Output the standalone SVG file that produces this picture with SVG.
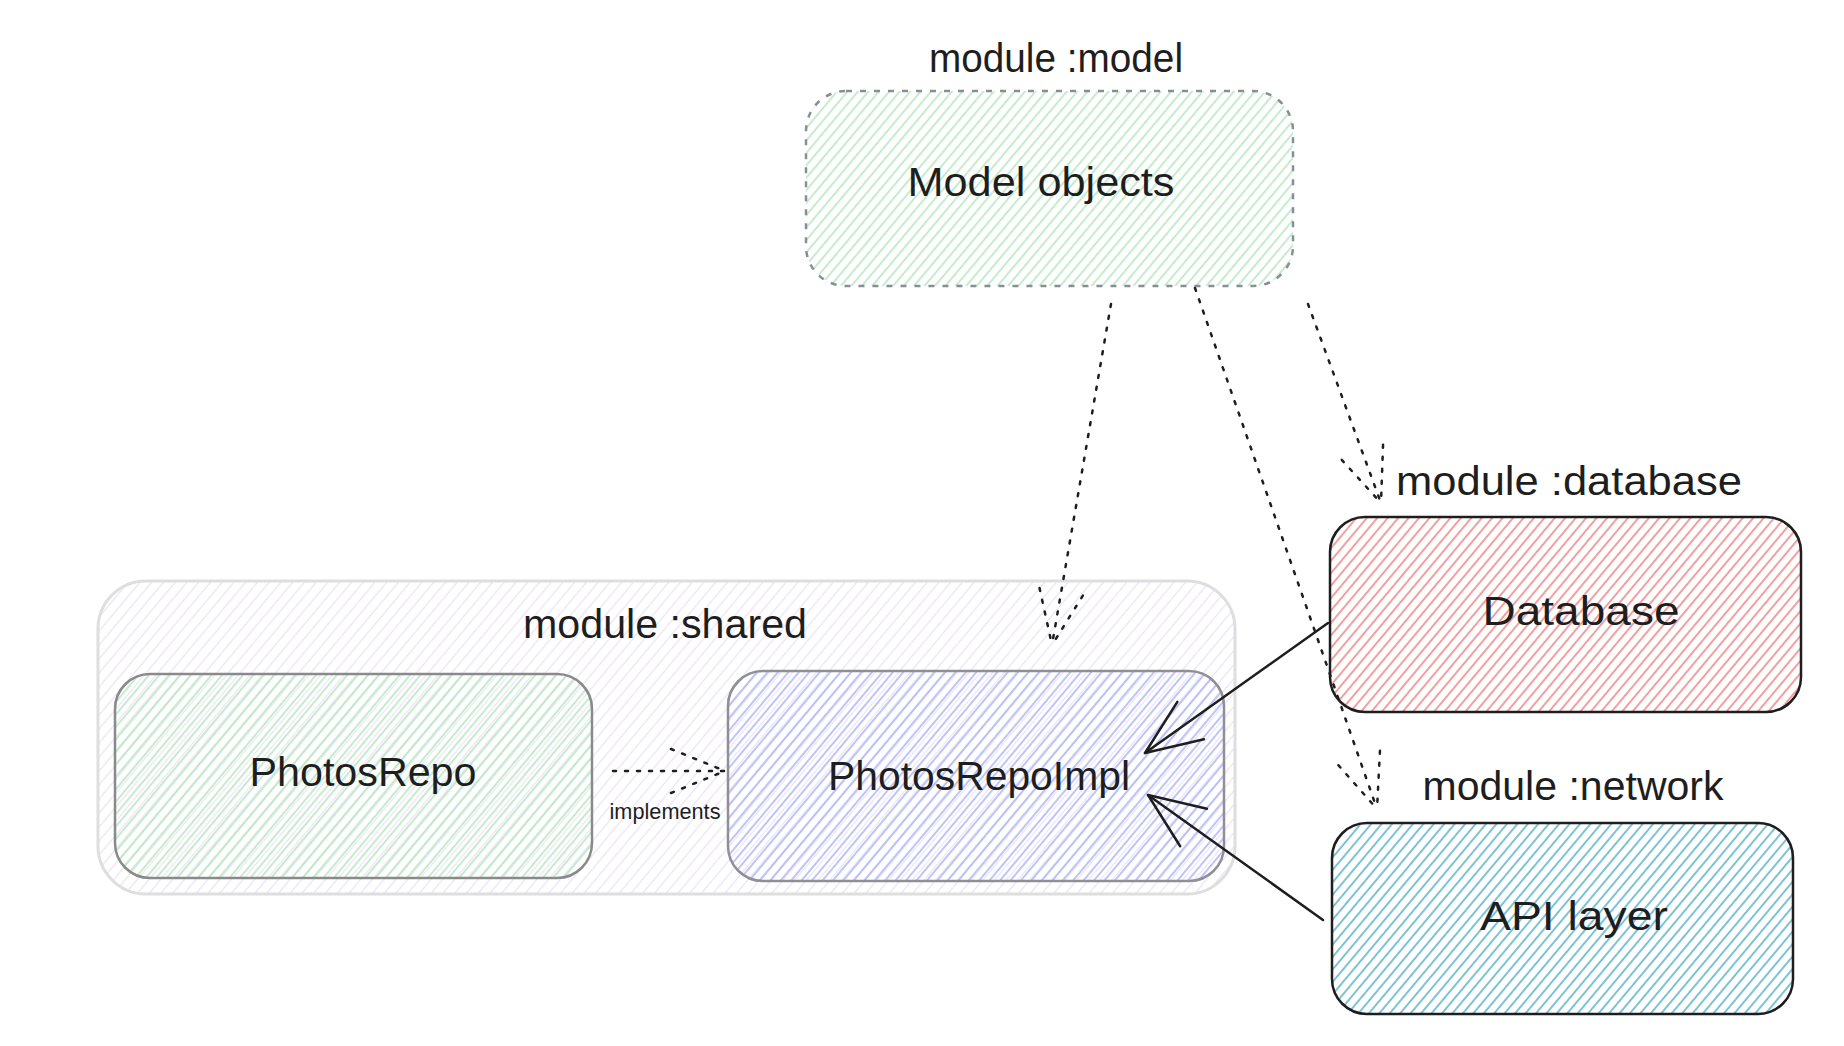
<svg xmlns="http://www.w3.org/2000/svg" width="1844" height="1046" viewBox="0 0 1844 1046">
<style>
.lbl{font-family:"Liberation Sans",Arial,sans-serif;font-size:40px;fill:#1e1e1e;text-anchor:middle}
.small{font-size:22px}
.dot{fill:none;stroke:#1e1e1e;stroke-width:2.5;stroke-dasharray:3 9;stroke-linecap:round}
.sol{fill:none;stroke:#1e1e1e;stroke-width:2.5;stroke-linecap:round}
</style>
<defs>
<pattern id="hGreen" width="8" height="8" patternUnits="userSpaceOnUse" patternTransform="rotate(-50)"><line x1="0" y1="4" x2="8" y2="4" stroke="#b2e6b9" stroke-width="1.5"/></pattern>
<pattern id="hPurple" width="9" height="9" patternUnits="userSpaceOnUse" patternTransform="rotate(-50)"><line x1="0" y1="4.5" x2="9" y2="4.5" stroke="#ebe3f7" stroke-width="1.3"/></pattern>
<pattern id="hBlue" width="8" height="8" patternUnits="userSpaceOnUse" patternTransform="rotate(-50)"><line x1="0" y1="4" x2="8" y2="4" stroke="#a8b2f4" stroke-width="1.5"/></pattern>
<pattern id="hRed" width="8" height="8" patternUnits="userSpaceOnUse" patternTransform="rotate(-50)"><line x1="0" y1="4" x2="8" y2="4" stroke="#ef8787" stroke-width="1.6"/></pattern>
<pattern id="hCyan" width="8" height="8" patternUnits="userSpaceOnUse" patternTransform="rotate(-50)"><line x1="0" y1="4" x2="8" y2="4" stroke="#5cb4cc" stroke-width="1.6"/></pattern>
<marker id="arrDot" viewBox="-64 -32 70 64" refX="0" refY="0" markerWidth="70" markerHeight="64" markerUnits="userSpaceOnUse" orient="auto">
<path d="M-54,-22 L0,0 M-54,22 L0,0" fill="none" stroke="#1e1e1e" stroke-width="2.5" stroke-dasharray="3 9" stroke-linecap="round"/>
</marker>
<marker id="arrSol" viewBox="-64 -32 70 64" refX="0" refY="0" markerWidth="70" markerHeight="64" markerUnits="userSpaceOnUse" orient="auto">
<path d="M-56,-23 L0,0 L-56,23" fill="none" stroke="#1e1e1e" stroke-width="2.5" stroke-linecap="round" stroke-linejoin="round"/>
</marker>
</defs>
<rect width="1844" height="1046" fill="#ffffff"/>

<g id="model">
<text class="lbl" x="1056" y="72" textLength="254" lengthAdjust="spacingAndGlyphs">module :model</text>
<rect x="806" y="91" width="487" height="195" rx="40" fill="url(#hGreen)" stroke="#868e96" stroke-width="2.5" stroke-dasharray="6 8"/>
<text class="lbl" x="1041" y="196" textLength="267" lengthAdjust="spacingAndGlyphs">Model objects</text>
</g>

<g id="shared">
<rect x="98" y="581" width="1137" height="313" rx="48" fill="url(#hPurple)" stroke="#dedede" stroke-width="3"/>
<text class="lbl" x="665" y="638" textLength="284" lengthAdjust="spacingAndGlyphs">module :shared</text>
</g>

<g id="photosrepo">
<rect x="115" y="674" width="477" height="204" rx="35" fill="url(#hGreen)" stroke="#8a8a8a" stroke-width="2.5"/>
<text class="lbl" x="363" y="786" textLength="227" lengthAdjust="spacingAndGlyphs">PhotosRepo</text>
</g>

<g id="photosrepoimpl">
<rect x="728" y="671" width="496" height="210" rx="35" fill="url(#hBlue)" stroke="#8f8f95" stroke-width="2.5"/>
<text class="lbl" x="979" y="790" textLength="302" lengthAdjust="spacingAndGlyphs">PhotosRepoImpl</text>
</g>

<g id="database">
<text class="lbl" x="1569" y="495" textLength="346" lengthAdjust="spacingAndGlyphs">module :database</text>
<rect x="1330" y="517" width="471" height="195" rx="35" fill="url(#hRed)" stroke="#1e1e1e" stroke-width="2.5"/>
<text class="lbl" x="1581" y="625" textLength="197" lengthAdjust="spacingAndGlyphs">Database</text>
</g>

<g id="network">
<text class="lbl" x="1573" y="800" textLength="301" lengthAdjust="spacingAndGlyphs">module :network</text>
<rect x="1332" y="823" width="461" height="191" rx="35" fill="url(#hCyan)" stroke="#1e1e1e" stroke-width="2.5"/>
<text class="lbl" x="1574" y="930" textLength="188" lengthAdjust="spacingAndGlyphs">API layer</text>
</g>

<g id="connectors">
<path class="dot" d="M1111,304 L1052,645" marker-end="url(#arrDot)"/>
<path class="dot" d="M1195,288 L1377,809" marker-end="url(#arrDot)"/>
<path class="dot" d="M1308,304 L1381,503" marker-end="url(#arrDot)"/>
<path class="sol" d="M1328,623 L1145,753" marker-end="url(#arrSol)"/>
<path class="sol" d="M1323,920 L1148,795" marker-end="url(#arrSol)"/>
<path class="dot" d="M613,771 L725,771" marker-end="url(#arrDot)"/>
<text class="lbl small" x="665" y="819" textLength="111" lengthAdjust="spacingAndGlyphs">implements</text>
</g>
</svg>
